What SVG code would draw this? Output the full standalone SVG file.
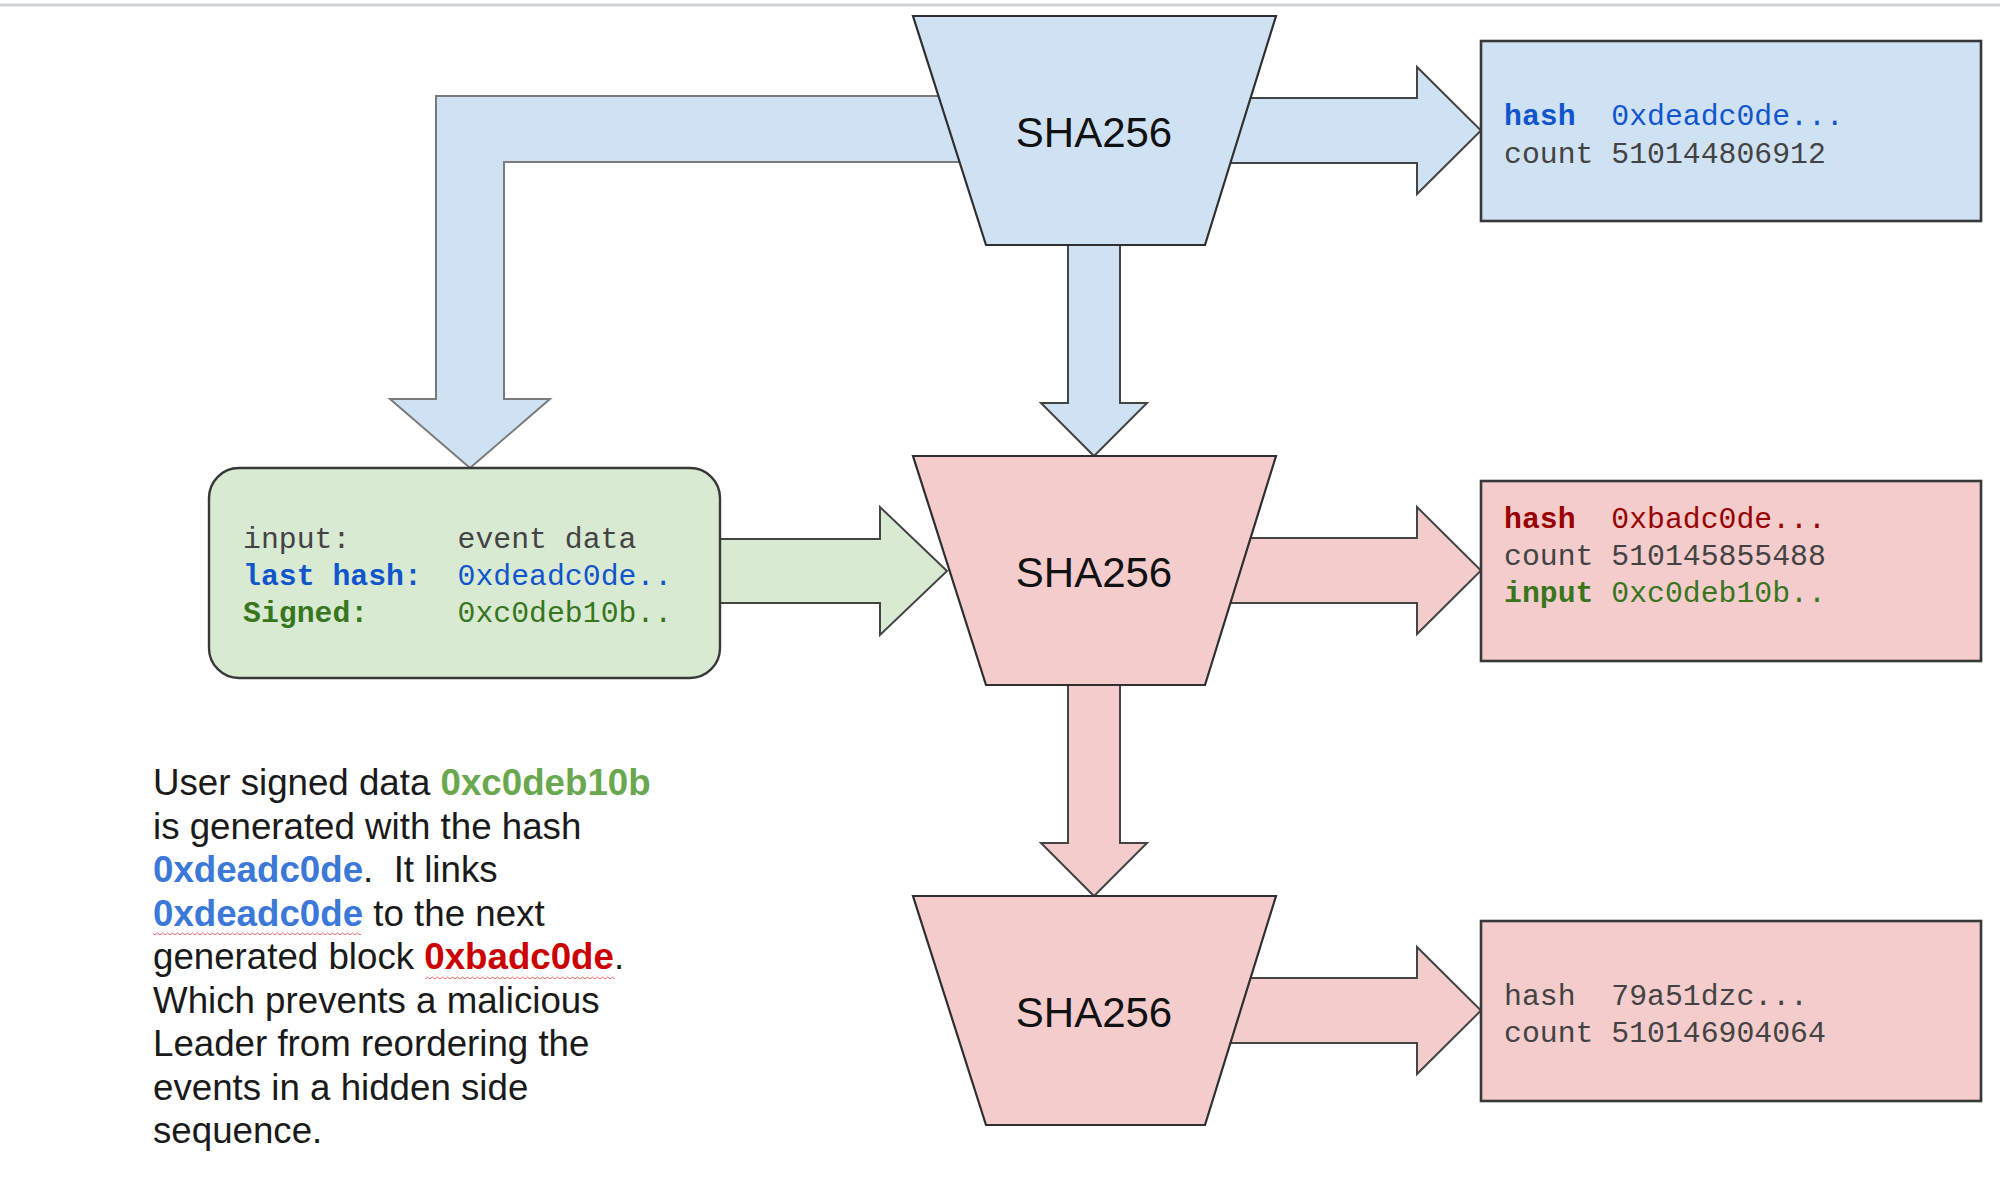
<svg xmlns="http://www.w3.org/2000/svg" width="2000" height="1184" viewBox="0 0 2000 1184">
  <style>
    .trap-blue { fill: #cfe2f3; stroke: #2f2f2f; stroke-width: 2.2; stroke-linejoin: miter; }
    .trap-pink { fill: #f4cccc; stroke: #2f2f2f; stroke-width: 2.2; stroke-linejoin: miter; }
    .box-blue { fill: #cfe2f3; stroke: #383838; stroke-width: 2.6; }
    .box-pink { fill: #f4cccc; stroke: #383838; stroke-width: 2.6; }
    .box-green { fill: #d9ead3; stroke: #383838; stroke-width: 2.4; }
    .arr-blue { fill: #cfe2f3; stroke: #444; stroke-width: 2; stroke-linejoin: miter; }
    .arr-pink { fill: #f4cccc; stroke: #444; stroke-width: 2; stroke-linejoin: miter; }
    .arr-green { fill: #d9ead3; stroke: #444; stroke-width: 2; stroke-linejoin: miter; }
    .arr-bend { fill: #cfe2f3; stroke: #7a7a7a; stroke-width: 2; stroke-linejoin: miter; }
    .sha { font-family: "Liberation Sans", Arial, sans-serif; font-size: 42px; fill: #111; text-anchor: middle; }
    .mono { font-family: "Liberation Mono", "Courier New", monospace; font-size: 29.8px; fill: #434343; }
    .b { font-weight: bold; }
    .blue { fill: #1155cc; }
    .red { fill: #990000; }
    .green { fill: #38761d; }
    .note { font-family: "Liberation Sans", Arial, sans-serif; font-size: 36.7px; fill: #1a1a1a; }
    .ng { fill: #6aa84f; font-weight: bold; }
    .nb { fill: #3c78d8; font-weight: bold; }
    .nr { fill: #cc0000; font-weight: bold; }
  </style>
  <defs>
    <pattern id="squiggle" x="0" y="0" width="5" height="4" patternUnits="userSpaceOnUse">
      <path d="M0,3 L2.5,1 L5,3" fill="none" stroke="#e06666" stroke-width="1"/>
    </pattern>
  </defs>

  <rect width="2000" height="1184" fill="#ffffff"/>
  <line x1="0" y1="5" x2="2000" y2="5" stroke="#cfd3d7" stroke-width="3"/>

  <g id="connectors">
    <!-- bend arrow from top SHA256 to input box -->
    <path class="arr-bend" d="M980,96 L436,96 L436,399 L390,399 L470,468 L550,399 L504,399 L504,162 L980,162 Z"/>
    <!-- right arrows -->
    <path class="arr-blue" d="M1220,98 L1417,98 L1417,67 L1481,130.5 L1417,194 L1417,163 L1220,163 Z"/>
    <path class="arr-pink" d="M1220,538 L1417,538 L1417,507 L1481,570.5 L1417,634 L1417,603 L1220,603 Z"/>
    <path class="arr-pink" d="M1220,978 L1417,978 L1417,947 L1481,1010.5 L1417,1074 L1417,1043 L1220,1043 Z"/>
    <!-- down arrows -->
    <path class="arr-blue" d="M1068,238 L1068,403 L1041,403 L1094,456 L1147,403 L1120,403 L1120,238 Z"/>
    <path class="arr-pink" d="M1068,678 L1068,843 L1041,843 L1094,896 L1147,843 L1120,843 L1120,678 Z"/>
    <!-- green arrow from input box -->
    <path class="arr-green" d="M712,539 L880,539 L880,507 L947,571 L880,635 L880,603 L712,603 Z"/>
  </g>

  <g id="sha256-1">
    <path class="trap-blue" d="M913,16 L1276,16 L1205,245 L986,245 Z"/>
    <text class="sha" x="1094" y="147">SHA256</text>
  </g>
  <g id="sha256-2">
    <path class="trap-pink" d="M913,456 L1276,456 L1205,685 L986,685 Z"/>
    <text class="sha" x="1094" y="587">SHA256</text>
  </g>
  <g id="sha256-3">
    <path class="trap-pink" d="M913,896 L1276,896 L1205,1125 L986,1125 Z"/>
    <text class="sha" x="1094" y="1027">SHA256</text>
  </g>

  <g id="out-1">
    <rect class="box-blue" x="1481" y="41" width="500" height="180"/>
    <text class="mono" x="1504" y="124.5" xml:space="preserve"><tspan class="b blue">hash</tspan>  <tspan class="blue">0xdeadc0de...</tspan></text>
    <text class="mono" x="1504" y="162.5" xml:space="preserve">count 510144806912</text>
  </g>
  <g id="out-2">
    <rect class="box-pink" x="1481" y="481" width="500" height="180"/>
    <text class="mono" x="1504" y="528" xml:space="preserve"><tspan class="b red">hash</tspan>  <tspan class="red">0xbadc0de...</tspan></text>
    <text class="mono" x="1504" y="565" xml:space="preserve">count 510145855488</text>
    <text class="mono" x="1504" y="602" xml:space="preserve"><tspan class="b green">input</tspan> <tspan class="green">0xc0deb10b..</tspan></text>
  </g>
  <g id="out-3">
    <rect class="box-pink" x="1481" y="921" width="500" height="180"/>
    <text class="mono" x="1504" y="1005" xml:space="preserve">hash  79a51dzc...</text>
    <text class="mono" x="1504" y="1042" xml:space="preserve">count 510146904064</text>
  </g>

  <g id="input-box">
    <rect class="box-green" x="209" y="468" width="511" height="210" rx="30" ry="30"/>
    <text class="mono" x="243" y="548" xml:space="preserve">input:      event data</text>
    <text class="mono" x="243" y="585" xml:space="preserve"><tspan class="b blue">last hash:</tspan>  <tspan class="blue">0xdeadc0de..</tspan></text>
    <text class="mono" x="243" y="622" xml:space="preserve"><tspan class="b green">Signed:</tspan>     <tspan class="green">0xc0deb10b..</tspan></text>
  </g>

  <g id="note">
    <text class="note" x="153" y="795" xml:space="preserve">User signed data <tspan class="ng">0xc0deb10b</tspan></text>
    <text class="note" x="153" y="838.5" xml:space="preserve">is generated with the hash</text>
    <text class="note" x="153" y="882" xml:space="preserve"><tspan class="nb">0xdeadc0de</tspan>.  It links</text>
    <text class="note" x="153" y="925.5" xml:space="preserve"><tspan class="nb">0xdeadc0de</tspan> to the next</text>
    <text class="note" x="153" y="969" xml:space="preserve">generated block <tspan class="nr">0xbadc0de</tspan>.</text>
    <text class="note" x="153" y="1012.5" xml:space="preserve">Which prevents a malicious</text>
    <text class="note" x="153" y="1056" xml:space="preserve">Leader from reordering the</text>
    <text class="note" x="153" y="1099.5" xml:space="preserve">events in a hidden side</text>
    <text class="note" x="153" y="1143" xml:space="preserve">sequence.</text>
    <rect x="153" y="931" width="208" height="4" fill="url(#squiggle)"/>
    <rect x="425" y="975" width="190" height="4" fill="url(#squiggle)"/>
  </g>
</svg>
